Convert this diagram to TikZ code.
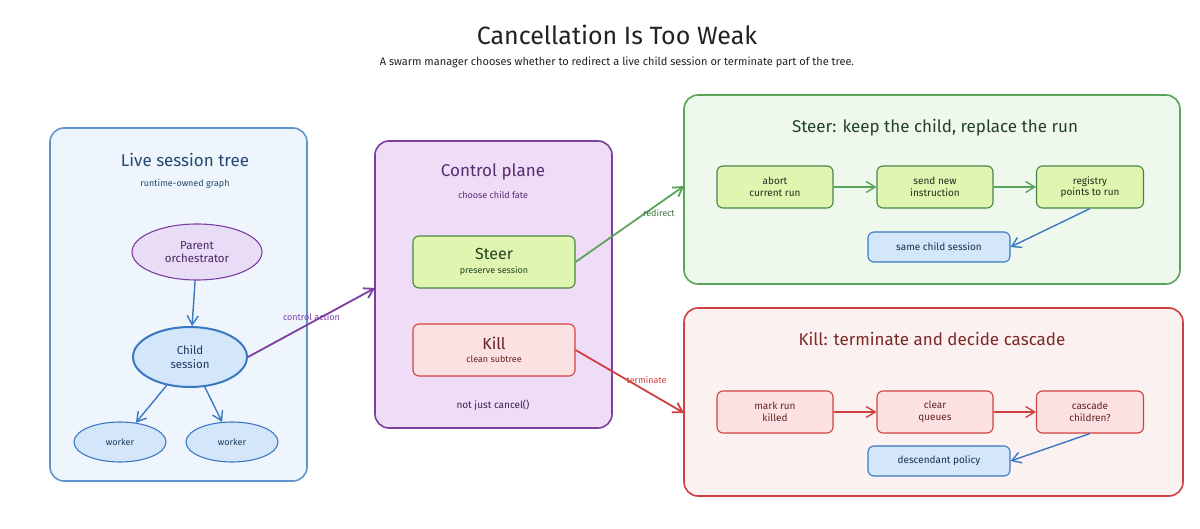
\documentclass[tikz,border=0pt]{standalone}
\usepackage{fontspec}
\setmainfont{Fira Sans}
\usetikzlibrary{arrows.meta,shapes.geometric}
\definecolor{bstroke}{HTML}{3A78C2}
\definecolor{bfill}{HTML}{EEF5FC}
\definecolor{bnode}{HTML}{D4E6FA}
\definecolor{pstroke}{HTML}{7B3FA0}
\definecolor{pfill}{HTML}{EFDCF6}
\definecolor{pnode}{HTML}{E9DCF7}
\definecolor{gstroke}{HTML}{5AA55A}
\definecolor{gfill}{HTML}{EEF8EC}
\definecolor{gnode}{HTML}{DFF5B0}
\definecolor{rstroke}{HTML}{D04040}
\definecolor{rfill}{HTML}{FCF1F1}
\definecolor{rnode}{HTML}{FBE1E1}
\definecolor{ink}{HTML}{222222}
\tikzset{
 panel/.style={draw, line width=1.6pt, rounded corners=14pt},
 box/.style={draw, line width=1.1pt, rounded corners=6pt, align=center, font=\fontsize{10}{11.5}\selectfont},
 ell/.style={ellipse, draw, line width=1.1pt, align=center, font=\fontsize{11.5}{13.5}\selectfont},
 arr/.style={-{Straight Barb[length=9pt,width=11pt]}, line width=1.4pt},
 lbl/.style={font=\fontsize{9}{10}\selectfont},
}
\begin{document}
\begin{tikzpicture}[x=1pt,y=-1pt]
\useasboundingbox (0,0) rectangle (1200,529);
\fill[white] (0,0) rectangle (1200,529);
\node[text=ink,font=\fontsize{25}{29}\selectfont] (title) at (617,35) {Cancellation Is Too Weak};
\node[text=ink,font=\fontsize{11}{13}\selectfont] (sub) at (617,62) {A swarm manager chooses whether to redirect a live child session or terminate part of the tree.};
% left panel
\draw[panel,draw=bstroke!80,fill=bfill] (50,128) rectangle (307,481);
\node[text=bstroke!60!black,font=\fontsize{17}{20}\selectfont] (lt) at (185,160) {Live session tree};
\node[text=bstroke!60!black,lbl] (ls) at (185,184) {runtime-owned graph};
\node[ell,draw=pstroke,fill=pnode,text=pstroke!60!black,minimum width=130pt,minimum height=56pt] (parent) at (197,252) {Parent\\orchestrator};
\node[ell,draw=bstroke,fill=bnode,line width=2pt,text=bstroke!50!black,minimum width=114pt,minimum height=60pt] (child) at (190,357) {Child\\session};
\node[ell,draw=bstroke,fill=bnode,text=bstroke!50!black,minimum width=92pt,minimum height=40pt,font=\fontsize{9}{10}\selectfont] (w1) at (120,442) {worker};
\node[ell,draw=bstroke,fill=bnode,text=bstroke!50!black,minimum width=92pt,minimum height=40pt,font=\fontsize{9}{10}\selectfont] (w2) at (232,442) {worker};
\draw[arr,bstroke] (parent) -- (child);
\draw[arr,bstroke] (child) -- (w1);
\draw[arr,bstroke] (child) -- (w2);
% middle panel
\draw[panel,draw=pstroke,fill=pfill] (375,141) rectangle (612,428);
\node[text=pstroke!70!black,font=\fontsize{17}{20}\selectfont] (ct) at (493,172) {Control plane};
\node[text=pstroke!70!black,lbl] (cs) at (493,195) {choose child fate};
\node[box,draw=gstroke!80!black,fill=gnode,minimum width=162pt,minimum height=52pt,text=gstroke!40!black] (steer) at (494,262) {{\fontsize{16}{18}\selectfont Steer}\\[2pt]{\fontsize{9}{10}\selectfont preserve session}};
\node[box,draw=rstroke,fill=rnode,minimum width=162pt,minimum height=52pt,text=rstroke!50!black] (kill) at (494,350) {{\fontsize{16}{18}\selectfont Kill}\\[2pt]{\fontsize{9}{10}\selectfont clean subtree}};
\node[text=pstroke!50!black,font=\fontsize{10}{12}\selectfont] (nc) at (493,405) {not just cancel()};
\coordinate (cin) at (375,288);
\draw[arr,pstroke,line width=1.8pt] (child.east) -- (cin) node[midway,above,lbl,text=pstroke,yshift=-2pt] {control action};
% top right panel
\draw[panel,draw=gstroke,fill=gfill] (684,95) rectangle (1180,284);
\node[text=gstroke!40!black,font=\fontsize{17}{20}\selectfont] (st) at (935,128) {Steer: keep the child, replace the run};
\node[box,draw=gstroke!80!black,fill=gnode,text=gstroke!30!black,minimum width=116pt,minimum height=42pt] (s1) at (775,187) {abort\\current run};
\node[box,draw=gstroke!80!black,fill=gnode,text=gstroke!30!black,minimum width=116pt,minimum height=42pt] (s2) at (935,187) {send new\\instruction};
\node[box,draw=gstroke!80!black,fill=gnode,text=gstroke!30!black,minimum width=107pt,minimum height=42pt] (s3) at (1090,187) {registry\\points to run};
\node[box,draw=bstroke,fill=bnode,text=bstroke!40!black,minimum width=142pt,minimum height=30pt] (s4) at (939,247) {same child session};
\draw[arr,gstroke] (s1) -- (s2);
\draw[arr,gstroke] (s2) -- (s3);
\draw[arr,bstroke] (s3.south) -- (s4.east);
\coordinate (sin) at (684,186);
\draw[arr,gstroke,line width=1.8pt] (steer.east) -- (sin) node[pos=0.75,below,lbl,text=gstroke!70!black,xshift=2pt] {redirect};
% bottom right panel
\draw[panel,draw=rstroke,fill=rfill] (684,308) rectangle (1183,496);
\node[text=rstroke!60!black,font=\fontsize{17}{20}\selectfont] (kt) at (932,339) {Kill: terminate and decide cascade};
\node[box,draw=rstroke,fill=rnode,text=rstroke!50!black,minimum width=116pt,minimum height=42pt] (k1) at (775,412) {mark run\\killed};
\node[box,draw=rstroke,fill=rnode,text=rstroke!50!black,minimum width=116pt,minimum height=42pt] (k2) at (935,412) {clear\\queues};
\node[box,draw=rstroke,fill=rnode,text=rstroke!50!black,minimum width=107pt,minimum height=42pt] (k3) at (1090,412) {cascade\\children?};
\node[box,draw=bstroke,fill=bnode,text=bstroke!40!black,minimum width=142pt,minimum height=30pt] (k4) at (939,461) {descendant policy};
\draw[arr,rstroke] (k1) -- (k2);
\draw[arr,rstroke] (k2) -- (k3);
\draw[arr,bstroke] (k3.south) -- (k4.east);
\coordinate (kin) at (684,413);
\draw[arr,rstroke,line width=1.8pt] (kill.east) -- (kin) node[pos=0.6,above,lbl,text=rstroke,xshift=6pt] {terminate};
\end{tikzpicture}
\end{document}
